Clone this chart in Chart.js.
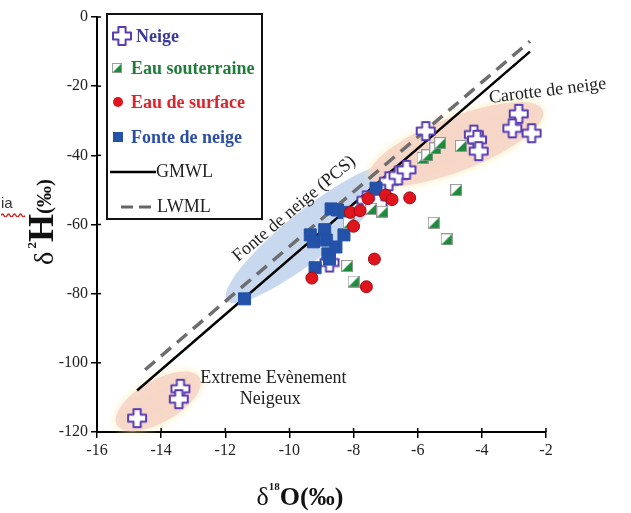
<!DOCTYPE html>
<html>
<head>
<meta charset="utf-8">
<script src="https://cdn.jsdelivr.net/npm/chart.js@4.4.0/dist/chart.umd.min.js"></script>
<style>
  body { margin: 0; background: #fff; }
  #wrap { position: relative; width: 631px; height: 513px; }
  #note { position: absolute; left: 1px; top: 194px; font: 15px "Liberation Sans", sans-serif; color: #333; }
  #note svg { position: absolute; left: 0; top: 18px; }
</style>
</head>
<body>
<div id="wrap">
  <canvas id="isoChart" width="631" height="513"></canvas>
  <span id="note">ia<svg width="24" height="5" viewBox="0 0 24 5"><path d="M0 3.5 Q1.5 0.5 3 3.5 T6 3.5 T9 3.5 T12 3.5 T15 3.5 T18 3.5 T21 3.5 T24 3.5" fill="none" stroke="#e01818" stroke-width="1.3"/></svg></span>
</div>
<script>
// δ18O / δ2H values
const neige = [
  [-14.75, -116], [-13.4, -107.5], [-13.45, -110.5], [-8.75, -71], [-7.6, -53], [-7.25, -54],
  [-6.9, -47.5], [-6.6, -45.8], [-6.35, -44.2], [-5.75, -33], [-4.25, -34], [-4.15, -35.5],
  [-4.1, -38.8], [-2.85, -28], [-3.05, -32.2], [-2.45, -33.6]
];
const eauSouterraine = [
  [-8.2, -72], [-8.0, -76.5], [-8.15, -59.5], [-7.45, -55.5], [-7.1, -56.3], [-5.85, -40.8],
  [-5.7, -40], [-5.45, -38], [-5.3, -36.5], [-4.65, -37.3], [-4.8, -50], [-5.5, -59.5], [-5.1, -64.3]
];
const eauSurface = [
  [-9.3, -75.5], [-8.1, -56.5], [-7.8, -56], [-8.0, -60.5], [-7.55, -52.5], [-7.35, -70],
  [-7.6, -78], [-7.0, -51.5], [-6.8, -52.8], [-6.25, -52.3]
];
const fonteNeige = [
  [-11.4, -81.5], [-9.35, -63], [-9.25, -65], [-9.2, -72.5], [-8.9, -61.5], [-8.85, -64.5],
  [-8.8, -68.5], [-8.75, -70], [-8.7, -55.5], [-8.5, -55.8], [-8.3, -56.5], [-8.55, -66.5],
  [-8.3, -63], [-7.3, -49.5]
];
const gmwl = [[-14.75, -108], [-2.5, -10]];
const lwml = [[-14.5, -102], [-2.5, -7]];
const xTicks = { min: -16, max: -2, step: 2 };
const yTicks = { min: -120, max: 0, step: 20 };

const serif = "'Liberation Serif', 'Times New Roman', serif";
const toXY = (arr) => arr.map(([x, y]) => ({ x, y }));

// marker images
function crossMarker() {
  const c = document.createElement("canvas");
  c.width = 22; c.height = 22;
  const g = c.getContext("2d");
  const w = 3.6, L = 9;
  const pts = [[-w,-L],[w,-L],[w,-w],[L,-w],[L,w],[w,w],[w,L],[-w,L],[-w,w],[-L,w],[-L,-w],[-w,-w]];
  g.translate(11, 11);
  g.beginPath();
  pts.forEach(([px, py], i) => (i ? g.lineTo(px, py) : g.moveTo(px, py)));
  g.closePath();
  g.fillStyle = "#fff";
  g.fill();
  g.lineJoin = "round";
  g.lineWidth = 2;
  g.strokeStyle = "#5a3db3";
  g.stroke();
  return c;
}
function halfSquare() {
  const c = document.createElement("canvas");
  c.width = 12; c.height = 12;
  const g = c.getContext("2d");
  g.fillStyle = "#fff";
  g.fillRect(0.5, 0.5, 11, 11);
  g.beginPath();
  g.moveTo(11.5, 0.5); g.lineTo(11.5, 11.5); g.lineTo(0.5, 11.5); g.closePath();
  g.fillStyle = "#1e8a3c";
  g.fill();
  g.strokeStyle = "#9a9a9a";
  g.lineWidth = 1;
  g.strokeRect(0.5, 0.5, 11, 11);
  return c;
}
const crossImg = crossMarker();
const halfImg = halfSquare();

// shaded groups and notes, placed through the scales
const zones = [
  { from: [-11.95, -82], to: [-6.75, -43.5], r: 24, fill: "rgba(182,204,234,0.75)", glow: null },
  { from: [-7.5, -46.5], to: [-2.1, -27], r: 27, fill: "rgba(246,212,202,0.85)", glow: "rgba(250,236,170,1)" },
  { from: [-15.38, -118], to: [-12.8, -104.3], r: 21, fill: "rgba(246,212,202,0.85)", glow: "rgba(250,236,170,1)" }
];
const notes = [
  { text: "Fonte de neige (PCS)", at: [-9.85, -55.5], angle: -40, size: 18 },
  { text: "Carotte de neige", at: [-1.95, -21.4], angle: -7, size: 18 },
  { text: "Extreme Evènement", at: [-10.5, -104.5], angle: 0, size: 18 },
  { text: "Neigeux", at: [-10.6, -110.5], angle: 0, size: 18 }
];

const decor = {
  id: "decor",
  beforeDatasetsDraw(chart) {
    const { ctx, scales: { x, y } } = chart;
    zones.forEach((z) => {
      const x1 = x.getPixelForValue(z.from[0]), y1 = y.getPixelForValue(z.from[1]);
      const x2 = x.getPixelForValue(z.to[0]), y2 = y.getPixelForValue(z.to[1]);
      const a = Math.hypot(x2 - x1, y2 - y1) / 2;
      ctx.save();
      ctx.beginPath();
      ctx.ellipse((x1 + x2) / 2, (y1 + y2) / 2, a, z.r, Math.atan2(y2 - y1, x2 - x1), 0, Math.PI * 2);
      if (z.glow) { ctx.shadowColor = z.glow; ctx.shadowBlur = 8; }
      ctx.fillStyle = z.fill;
      ctx.fill();
      ctx.restore();
    });
    notes.forEach((n) => {
      ctx.save();
      ctx.translate(x.getPixelForValue(n.at[0]), y.getPixelForValue(n.at[1]));
      ctx.rotate((n.angle * Math.PI) / 180);
      ctx.font = n.size + "px " + serif;
      ctx.fillStyle = "#222";
      ctx.textAlign = "center";
      ctx.textBaseline = "middle";
      ctx.fillText(n.text, 0, 0);
      ctx.restore();
    });
  },
  afterDraw(chart) {
    const { ctx, chartArea: area, scales: { x, y } } = chart;
    ctx.save();
    // inner half of the tick marks
    ctx.strokeStyle = "#000";
    ctx.lineWidth = 1.5;
    x.ticks.forEach((t) => {
      const px = x.getPixelForValue(t.value);
      ctx.beginPath(); ctx.moveTo(px, area.bottom); ctx.lineTo(px, area.bottom - 4); ctx.stroke();
    });
    y.ticks.forEach((t) => {
      const py = y.getPixelForValue(t.value);
      ctx.beginPath(); ctx.moveTo(area.left, py); ctx.lineTo(area.left + 4, py); ctx.stroke();
    });

    // legend box
    const bx = 107, by = 14, bw = 155, bh = 205;
    ctx.fillStyle = "#fff";
    ctx.fillRect(bx, by, bw, bh);
    ctx.lineWidth = 2;
    ctx.strokeStyle = "#111";
    ctx.strokeRect(bx, by, bw, bh);
    ctx.textBaseline = "middle";
    ctx.textAlign = "left";
    const rows = [
      { label: "Neige", color: "#3b3a9c", y: 36 },
      { label: "Eau souterraine", color: "#1f7d3b", y: 68 },
      { label: "Eau de surface", color: "#e2222b", y: 102 },
      { label: "Fonte de neige", color: "#2b4ea3", y: 137 }
    ];
    ctx.font = "bold 18px " + serif;
    rows.forEach((r, i) => {
      const sx = 117;
      if (i === 0) ctx.drawImage(crossImg, sx - 6, r.y - 11);
      if (i === 1) ctx.drawImage(halfImg, sx - 5, r.y - 5, 10, 10);
      if (i === 2) {
        ctx.beginPath(); ctx.arc(sx + 1, r.y, 5, 0, Math.PI * 2);
        ctx.fillStyle = "#e0141c"; ctx.fill();
      }
      if (i === 3) { ctx.fillStyle = "#2352a8"; ctx.fillRect(sx - 4, r.y - 5, 10, 10); }
      ctx.fillStyle = r.color;
      ctx.fillText(r.label, i === 0 ? 136 : 131, r.y + 1);
    });
    ctx.font = "18px " + serif;
    ctx.fillStyle = "#222";
    ctx.strokeStyle = "#000";
    ctx.lineWidth = 2.5;
    ctx.beginPath(); ctx.moveTo(110, 172); ctx.lineTo(156, 172); ctx.stroke();
    ctx.fillText("GMWL", 156, 172);
    ctx.strokeStyle = "#666";
    ctx.lineWidth = 3;
    ctx.setLineDash([12, 6]);
    ctx.beginPath(); ctx.moveTo(121, 207); ctx.lineTo(151, 207); ctx.stroke();
    ctx.setLineDash([]);
    ctx.fillText("LWML", 157, 207);

    // axis titles with superscripts
    const title = (parts) => {
      let w = 0;
      parts.forEach((p) => { ctx.font = p.font; p.w = ctx.measureText(p.t).width; w += p.w; });
      return w;
    };
    ctx.fillStyle = "#111";
    ctx.textBaseline = "alphabetic";
    const xt = [
      { t: "δ", font: "26px " + serif, dy: 0 },
      { t: "18", font: "bold 11px " + serif, dy: -15 },
      { t: "O(‰)", font: "bold 26px " + serif, dy: 0 }
    ];
    let cx = 300 - title(xt) / 2;
    xt.forEach((p) => { ctx.font = p.font; ctx.fillText(p.t, cx, 505 + p.dy); cx += p.w; });

    const yt = [
      { t: "δ", font: "28px " + serif, dy: 0 },
      { t: " 2", font: "bold 13px " + serif, dy: -17 },
      { t: "H", font: "bold 36px " + serif, dy: 0 },
      { t: "(‰)", font: "bold 21px " + serif, dy: -2 }
    ];
    ctx.translate(53, 222);
    ctx.rotate(-Math.PI / 2);
    cx = -title(yt) / 2;
    yt.forEach((p) => { ctx.font = p.font; ctx.fillText(p.t, cx, p.dy); cx += p.w; });
    ctx.restore();
  }
};

const axisStyle = (range, fit) => ({
  type: "linear",
  min: range.min,
  max: range.max,
  ticks: { stepSize: range.step, color: "#222", font: { family: serif, size: 16 }, padding: 3 },
  grid: { drawOnChartArea: false, drawTicks: true, tickLength: 6, color: "#000", lineWidth: 1.5 },
  border: { color: "#000", width: 2 },
  afterFit: fit
});

new Chart(document.getElementById("isoChart"), {
  type: "scatter",
  data: {
    datasets: [
      { label: "Eau de surface", data: toXY(eauSurface), pointStyle: "circle", pointRadius: 6,
        backgroundColor: "#e0141c", borderColor: "#9c1016", borderWidth: 1 },
      { label: "Eau souterraine", data: toXY(eauSouterraine), pointStyle: halfImg, pointRadius: 6 },
      { label: "Fonte de neige", data: toXY(fonteNeige), pointStyle: "rect", pointRadius: 8.5,
        backgroundColor: "#2352a8", borderColor: "#2352a8", borderWidth: 1 },
      { label: "Neige", data: toXY(neige), pointStyle: crossImg, pointRadius: 9 },
      { label: "GMWL", data: toXY(gmwl), showLine: true, pointRadius: 0, borderColor: "#000", borderWidth: 2.5 },
      { label: "LWML", data: toXY(lwml), showLine: true, pointRadius: 0, borderColor: "#6e6e6e",
        borderWidth: 3.5, borderDash: [13, 8] }
    ]
  },
  options: {
    responsive: false,
    animation: false,
    layout: { padding: { top: 17, right: 85, left: 0, bottom: 0 } },
    plugins: { legend: { display: false }, tooltip: { enabled: false } },
    scales: {
      x: axisStyle(xTicks, (s) => { s.height = 81; }),
      y: axisStyle(yTicks, (s) => { s.width = 97; })
    }
  },
  plugins: [decor]
});
</script>
</body>
</html>
